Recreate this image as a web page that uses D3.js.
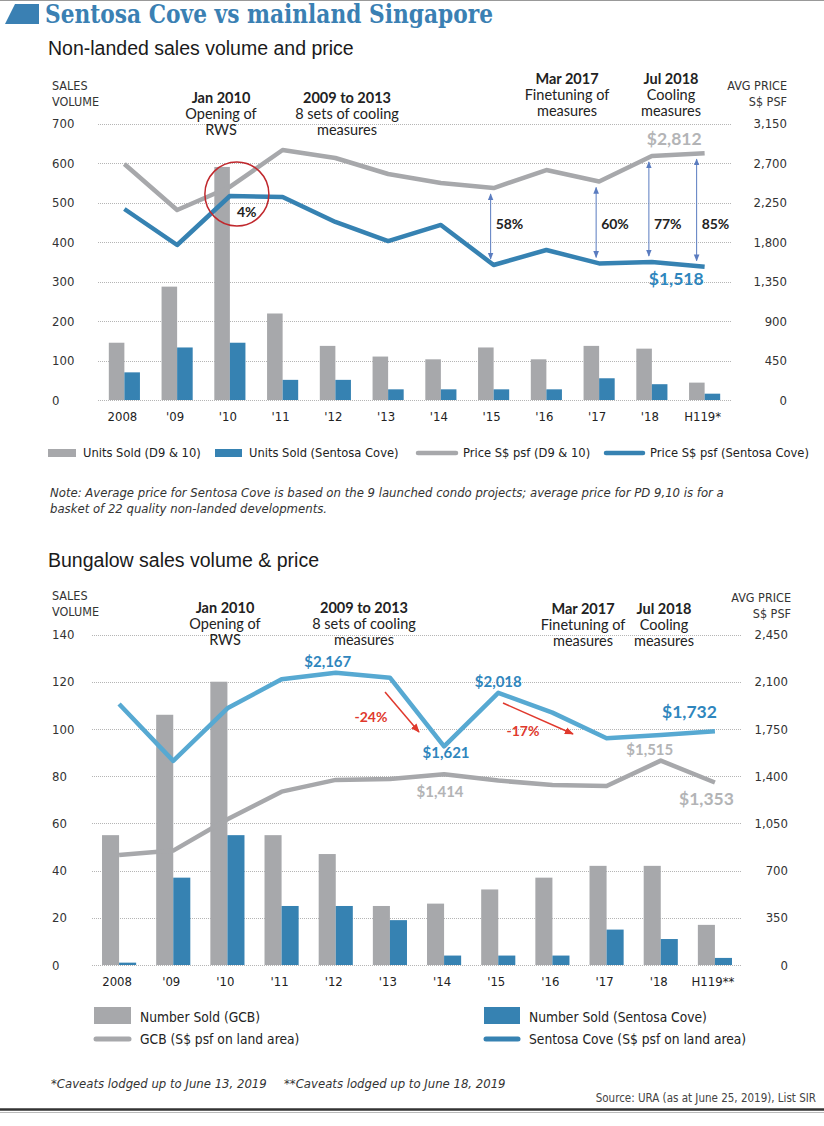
<!DOCTYPE html>
<html><head><meta charset="utf-8">
<script src="https://cdn.jsdelivr.net/npm/d3@7"></script>
<style>
html,body{margin:0;padding:0;background:#fff;}
svg{display:block;}
.narrow{font-family:'Liberation Sans Narrow','DejaVu Sans Condensed','Arial Narrow',sans-serif;font-stretch:condensed;}
.hum{font-family:Lato,'Open Sans',sans-serif;}
</style></head>
<body>
<svg id="c" width="824" height="1126"></svg>
<script>
// ---------- DATA ----------
const yearsTop = ["2008","'09","'10","'11","'12","'13","'14","'15","'16","'17","'18","H119*"];
const yearsBottom = ["2008","'09","'10","'11","'12","'13","'14","'15","'16","'17","'18","H119**"];

// Non-landed
const unitsD910 = [145,287,590,219,137,110,103,133,103,137,130,44];
const unitsSentosa = [70,133,145,51,51,27,27,27,27,55,40,16];
const priceD910 = [2689,2164,2427,2848,2757,2575,2472,2415,2620,2490,2780,2812];
const priceSentosa = [2176,1766,2324,2313,2028,1811,1994,1538,1709,1556,1572,1518];
const topLeftTicks = [0,100,200,300,400,500,600,700];
const topRightTicks = [0,450,900,1350,1800,2250,2700,3150];
const gapLabels = ["58%","60%","77%","85%"];
const gapYears = ["'15","'17","'18","H119*"];

// Bungalow
const unitsGCB = [55,106,120,55,47,25,26,32,37,42,42,17];
const unitsSentosaB = [1,37,55,25,25,19,4,4,4,15,11,3];
const priceGCB = [816,848,1080,1285,1372,1379,1414,1367,1335,1327,1515,1353];
const priceSentosaB = [1935,1513,1903,2118,2167,2130,1621,2018,1871,1681,1705,1732];
const botLeftTicks = [0,20,40,60,80,100,120,140];
const botRightTicks = [0,350,700,1050,1400,1750,2100,2450];

// ---------- STYLE ----------
const GRAY = "#a7a8ab", BLUE = "#3682b2", BLUE2 = "#57a9d2", TITLEBLUE = "#3a80b3", RED = "#e0392d";
const svg = d3.select("#c");

svg.append("line").attr("x1",0).attr("x2",824).attr("y1",0.5).attr("y2",0.5).attr("stroke","#999").attr("stroke-width",1);

// title
svg.append("path").attr("d","M5,24 L15,4 L39,4 L39,24 Z").attr("fill",TITLEBLUE);
svg.append("text").attr("x",45).attr("y",23).attr("textLength",448).attr("lengthAdjust","spacingAndGlyphs")
  .style("font-family","'DejaVu Serif',serif").style("font-weight","bold").style("font-size","26px")
  .attr("fill",TITLEBLUE).text("Sentosa Cove vs mainland Singapore");

const defs = svg.append("defs");
function marker(id,color,size){
  defs.append("marker").attr("id",id).attr("viewBox","0 0 10 10").attr("refX",9).attr("refY",5)
    .attr("markerWidth",size).attr("markerHeight",size).attr("orient","auto-start-reverse")
    .attr("markerUnits","userSpaceOnUse")
    .append("path").attr("d","M0,1 L10,5 L0,9 Z").attr("fill",color);
}
marker("arrBlue","#5a7cc0",7);
marker("arrRed",RED,9);

function panel(o){
  const g = svg.append("g");
  const x = d3.scaleBand().domain(o.years).range(o.xr).paddingInner(o.pad).paddingOuter(o.pad/2);
  const xs = d3.scaleBand().domain(["a","b"]).range([0,x.bandwidth()]);
  const yL = d3.scaleLinear().domain([0,o.leftMax]).range(o.yr);
  const yR = d3.scaleLinear().domain([0,o.rightMax]).range(o.yr);
  g.append("g").selectAll("line").data(o.leftTicks).join("line")
    .attr("x1",o.xr[0]).attr("x2",o.xr[1]).attr("y1",d=>Math.round(yL(d))+0.5).attr("y2",d=>Math.round(yL(d))+0.5)
    .attr("stroke","#b5b5b5").attr("stroke-width",1).attr("stroke-dasharray","1,1");
  const la = g.append("g").attr("transform",`translate(52,0)`).call(d3.axisLeft(yL).tickValues(o.leftTicks).tickSize(0).tickFormat(d3.format(",")));
  la.select(".domain").remove();
  la.selectAll("text").attr("x",0).attr("text-anchor","start").attr("class","narrow").style("font-size","13px").attr("fill","#333");
  const ra = g.append("g").attr("transform",`translate(${o.rx},0)`).call(d3.axisRight(yR).tickValues(o.rightTicks).tickSize(0).tickFormat(d3.format(",")));
  ra.select(".domain").remove();
  ra.selectAll("text").attr("x",0).attr("text-anchor","end").attr("class","narrow").style("font-size","13px").attr("fill","#333");
  la.attr("font-family",null).attr("font-size",null); ra.attr("font-family",null).attr("font-size",null);
  const xa = g.append("g").attr("transform",`translate(-2,${o.yr[0]})`).call(d3.axisBottom(x).tickSize(0).tickPadding(12));
  xa.select(".domain").remove();
  xa.attr("font-family",null).attr("font-size",null);
  xa.selectAll("text").attr("class","narrow").style("font-size","13px").attr("fill","#222");
  const bars = g.append("g");
  bars.selectAll("rect.g").data(o.barsA).join("rect").attr("class","g")
    .attr("x",(d,i)=>x(o.years[i])+xs("a")).attr("width",xs.bandwidth())
    .attr("y",d=>yL(d)).attr("height",d=>yL(0)-yL(d)).attr("fill",GRAY);
  bars.selectAll("rect.b").data(o.barsB).join("rect").attr("class","b")
    .attr("x",(d,i)=>x(o.years[i])+xs("b")).attr("width",xs.bandwidth())
    .attr("y",d=>yL(d)).attr("height",d=>yL(0)-yL(d)).attr("fill",BLUE);
  const line = d3.line().x((d,i)=>x(o.years[i])+x.bandwidth()/2).y(d=>yR(d));
  g.append("path").datum(o.lineA).attr("d",line).attr("fill","none").attr("stroke",GRAY).attr("stroke-width",4.5).attr("stroke-linejoin","round");
  g.append("path").datum(o.lineB).attr("d",line).attr("fill","none").attr("stroke",o.lineBColor).attr("stroke-width",4.5).attr("stroke-linejoin","round");
  return {g,x,yL,yR,cx:i=>x(o.years[i])+x.bandwidth()/2};
}

function ann(g,x,y,head,rest){
  g.append("text").attr("x",x).attr("y",y).attr("text-anchor","middle").attr("class","hum")
    .style("font-size","14.5px").style("font-weight","bold").attr("fill","#222").text(head);
  rest.forEach((t,i)=>g.append("text").attr("x",x).attr("y",y+16*(i+1)).attr("text-anchor","middle").attr("class","hum")
    .style("font-size","14.5px").attr("fill","#222").text(t));
}
function txt(x,y,t,size,opts){
  opts=opts||{};
  return svg.append("text").attr("x",x).attr("y",y).attr("text-anchor",opts.anchor||"start")
    .attr("class",opts.cls||"narrow").style("font-size",size+"px")
    .style("font-weight",opts.bold?"bold":"normal").style("font-style",opts.italic?"italic":"normal")
    .attr("fill",opts.fill||"#222").text(t);
}

// ---------- TOP PANEL ----------
txt(48,55,"Non-landed sales volume and price",19.5,{cls:"",fill:"#1a1a1a"}).style("font-family","'Liberation Sans',Arial,sans-serif");
txt(52,90,"SALES",12.5,{fill:"#333"}); txt(52,106,"VOLUME",12.5,{fill:"#333"});
txt(787,90,"AVG PRICE",12.5,{anchor:"end",fill:"#333"}); txt(787,106,"S$ PSF",12.5,{anchor:"end",fill:"#333"});

const T = panel({years:yearsTop,xr:[98,731],pad:0.41,yr:[400,123.5],leftMax:700,rightMax:3150,
  leftTicks:topLeftTicks,rightTicks:topRightTicks,rx:787,
  barsA:unitsD910,barsB:unitsSentosa,lineA:priceD910,lineB:priceSentosa,lineBColor:BLUE});

ann(svg,221,103,"Jan 2010",["Opening of","RWS"]);
ann(svg,347,103,"2009 to 2013",["8 sets of cooling","measures"]);
ann(svg,567,84,"Mar 2017",["Finetuning of","measures"]);
ann(svg,671,84,"Jul 2018",["Cooling","measures"]);

const i10 = yearsTop.indexOf("'10");
svg.append("circle").attr("cx",T.cx(i10)+7).attr("cy",T.yR(priceSentosa[i10])-2).attr("r",32)
  .attr("fill","none").attr("stroke","#c0282d").attr("stroke-width",1.5);
txt(T.cx(i10)+7,217,"4%",14,{cls:"hum",bold:true});

gapYears.forEach((yr,k)=>{
  const i = yearsTop.indexOf(yr);
  const ax = T.cx(i) - (k===3?8:3);
  svg.append("line").attr("x1",ax).attr("x2",ax)
    .attr("y1",T.yR(priceD910[i])+6).attr("y2",T.yR(priceSentosa[i])-6)
    .attr("stroke","#5a7cc0").attr("stroke-width",1)
    .attr("marker-start","url(#arrBlue)").attr("marker-end","url(#arrBlue)");
  txt(ax+5,229,gapLabels[k],14,{cls:"hum",bold:true});
});
const iH = yearsTop.length-1;
txt(T.cx(iH)-3,145,"$"+d3.format(",")(priceD910[iH]),17.5,{cls:"hum",bold:true,anchor:"end",fill:"#b3b4b6"});
txt(T.cx(iH)-1,285,"$"+d3.format(",")(priceSentosa[iH]),17.5,{cls:"hum",bold:true,anchor:"end",fill:"#2f86bd"});

// top legend
svg.append("rect").attr("x",48).attr("y",449).attr("width",28).attr("height",8).attr("fill",GRAY);
txt(83,457,"Units Sold (D9 & 10)",12.8);
svg.append("rect").attr("x",215).attr("y",449).attr("width",27).attr("height",8).attr("fill",BLUE);
txt(249,457,"Units Sold (Sentosa Cove)",12.8);
svg.append("line").attr("x1",418).attr("x2",456).attr("y1",453).attr("y2",453).attr("stroke",GRAY).attr("stroke-width",4.5).attr("stroke-linecap","round");
txt(463,457,"Price S$ psf (D9 & 10)",12.8);
svg.append("line").attr("x1",606).attr("x2",643).attr("y1",453).attr("y2",453).attr("stroke",BLUE).attr("stroke-width",4.5).attr("stroke-linecap","round");
txt(650,457,"Price S$ psf (Sentosa Cove)",12.8);

txt(50,497,"Note: Average price for Sentosa Cove is based on the 9 launched condo projects; average price for PD 9,10 is for a",13,{italic:true,fill:"#333"});
txt(50,513,"basket of 22 quality non-landed developments.",13,{italic:true,fill:"#333"});

// ---------- BOTTOM PANEL ----------
txt(48,567,"Bungalow sales volume & price",19.5,{cls:"",fill:"#1a1a1a"}).style("font-family","'Liberation Sans',Arial,sans-serif");
txt(52,600,"SALES",12.5,{fill:"#333"}); txt(52,616,"VOLUME",12.5,{fill:"#333"});
txt(791,602,"AVG PRICE",12.5,{anchor:"end",fill:"#333"}); txt(791,618,"S$ PSF",12.5,{anchor:"end",fill:"#333"});

const B = panel({years:yearsBottom,xr:[92,742],pad:0.37,yr:[965,634.5],leftMax:140,rightMax:2450,
  leftTicks:botLeftTicks,rightTicks:botRightTicks,rx:788,
  barsA:unitsGCB,barsB:unitsSentosaB,lineA:priceGCB,lineB:priceSentosaB,lineBColor:BLUE2});

ann(svg,225,613,"Jan 2010",["Opening of","RWS"]);
ann(svg,364,613,"2009 to 2013",["8 sets of cooling","measures"]);
ann(svg,583,614,"Mar 2017",["Finetuning of","measures"]);
ann(svg,664,614,"Jul 2018",["Cooling","measures"]);

const fmt = d=>"$"+d3.format(",")(d);
const BL = "#2f86bd", GL = "#b3b4b6";
const i12 = yearsBottom.indexOf("'12"), i14 = yearsBottom.indexOf("'14"), i15 = yearsBottom.indexOf("'15"), i18 = yearsBottom.indexOf("'18"), iHB = yearsBottom.length-1;
txt(B.cx(i12)-8,667,fmt(priceSentosaB[i12]),15,{cls:"hum",bold:true,anchor:"middle",fill:BL});
txt(B.cx(i14)+2,758,fmt(priceSentosaB[i14]),15,{cls:"hum",bold:true,anchor:"middle",fill:BL});
txt(B.cx(i15),687,fmt(priceSentosaB[i15]),15,{cls:"hum",bold:true,anchor:"middle",fill:BL});
txt(B.cx(iHB)+2,718,fmt(priceSentosaB[iHB]),17.5,{cls:"hum",bold:true,anchor:"end",fill:BL});
txt(B.cx(i18)-11,755,fmt(priceGCB[i18]),15,{cls:"hum",bold:true,anchor:"middle",fill:GL});
txt(B.cx(i14)-4,797,fmt(priceGCB[i14]),15,{cls:"hum",bold:true,anchor:"middle",fill:GL});
txt(B.cx(iHB)+19,805,fmt(priceGCB[iHB]),17.5,{cls:"hum",bold:true,anchor:"end",fill:GL});

svg.append("line").attr("x1",385).attr("y1",692).attr("x2",419).attr("y2",732).attr("stroke",RED).attr("stroke-width",1.5).attr("marker-end","url(#arrRed)");
txt(371,722,"-24%",14,{cls:"hum",bold:true,anchor:"middle",fill:RED});
svg.append("line").attr("x1",503).attr("y1",703).attr("x2",573).attr("y2",734).attr("stroke",RED).attr("stroke-width",1.5).attr("marker-end","url(#arrRed)");
txt(523,736,"-17%",14,{cls:"hum",bold:true,anchor:"middle",fill:RED});

// bottom legend
svg.append("rect").attr("x",94).attr("y",1007).attr("width",37).attr("height",17).attr("fill",GRAY);
txt(140,1022,"Number Sold (GCB)",13.7);
svg.append("line").attr("x1",96).attr("x2",129).attr("y1",1039).attr("y2",1039).attr("stroke",GRAY).attr("stroke-width",5).attr("stroke-linecap","round");
txt(140,1044,"GCB (S$ psf on land area)",13.7);
svg.append("rect").attr("x",484).attr("y",1007).attr("width",36).attr("height",17).attr("fill",BLUE);
txt(529,1022,"Number Sold (Sentosa Cove)",13.7);
svg.append("line").attr("x1",486).attr("x2",518).attr("y1",1039).attr("y2",1039).attr("stroke",BLUE).attr("stroke-width",5).attr("stroke-linecap","round");
txt(529,1044,"Sentosa Cove (S$ psf on land area)",13.7);

txt(51,1088,"*Caveats lodged up to June 13, 2019",13,{italic:true,fill:"#333"});
txt(284,1088,"**Caveats lodged up to June 18, 2019",13,{italic:true,fill:"#333"});
txt(816,1102,"Source: URA (as at June 25, 2019), List SIR",11.5,{anchor:"end",fill:"#444"});
svg.append("line").attr("x1",0).attr("x2",824).attr("y1",1109.5).attr("y2",1109.5).attr("stroke","#333").attr("stroke-width",2.5);
svg.append("line").attr("x1",0).attr("x2",824).attr("y1",1112.5).attr("y2",1112.5).attr("stroke","#bbb").attr("stroke-width",1);
</script>
</body></html>
